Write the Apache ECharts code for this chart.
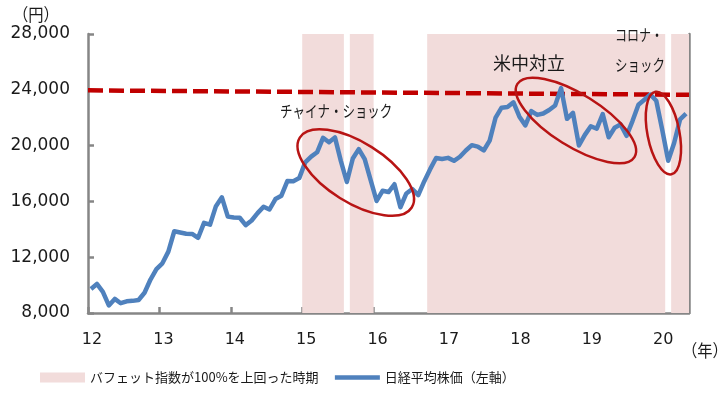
<!DOCTYPE html>
<html>
<head>
<meta charset="utf-8">
<script src="https://cdn.jsdelivr.net/npm/echarts@6.0.0/dist/echarts.min.js"></script>
<style>
  html, body { margin: 0; padding: 0; background: #fff; }
  #chart { width: 725px; height: 398px; }
</style>
</head>
<body>
<div id="chart"></div>
<script>
// 日経平均株価 月末値 (2012/02 - 2020/06)
const nikkei = [
  9720, 10080, 9520, 8540, 9010, 8700, 8840, 8870, 8930, 9450, 10400,               // 2012
  11140, 11560, 12400, 13860, 13770, 13680, 13670, 13390, 14460, 14330, 15660, 16290, // 2013
  14910, 14840, 14830, 14300, 14630, 15160, 15620, 15420, 16170, 16410, 17460, 17450, // 2014
  17670, 18800, 19210, 19520, 20560, 20240, 20590, 18890, 17390, 19080, 19750, 19030, // 2015
  17520, 16030, 16760, 16670, 17230, 15580, 16570, 16890, 16450, 17430, 18310, 19110, // 2016
  19040, 19120, 18910, 19200, 19650, 20030, 19930, 19650, 20360, 22010, 22720, 22760, // 2017
  23100, 22070, 21450, 22470, 22200, 22300, 22550, 22870, 24120, 21920, 22350, 20010, // 2018
  20770, 21390, 21210, 22260, 20600, 21280, 21520, 20700, 21760, 22930, 23290, 23660, // 2019
  23210, 21140, 18920, 20190, 21880, 22290                                            // 2020
];

// バフェット指数が100%を上回った時期 (months on the x scale, 0 = start of 2012)
const shadePeriods = [[36, 43], [44, 48], [57, 97], [98, 101]];

// red dashed reference line (start, end)
const refLine = [[0, 23960], [101, 23640]];

const yearLabels = ['12', '13', '14', '15', '16', '17', '18', '19', '20'];

// annotations: ellipse centre in data units, radii in px, rotation in degrees
const ellipses = [
  { c: [45, 18070], rx: 66, ry: 30, rot: -32 },
  { c: [82, 21800], rx: 69, ry: 26, rot: -32 },
  { c: [96.7, 20900], rx: 16, ry: 42, rot: 11 }
];

const SHADE_NAME = 'バフェット指数が100%を上回った時期';
const LINE_NAME = '日経平均株価（左軸）';
const JP = '"Noto Sans CJK JP", sans-serif';
const NUM = '"DejaVu Sans", Verdana, sans-serif';
const axisGray = '#868686';
const darkRed = '#B81414';
const blue = '#4F81BD';

const chart = echarts.init(document.getElementById('chart'));

chart.setOption({
  animation: false,
  grid: { left: 88, right: 36, top: 34, bottom: 85 },
  legend: {
    data: [
      { name: SHADE_NAME, icon: 'rect' },
      { name: LINE_NAME, itemStyle: { opacity: 0 }, lineStyle: { width: 4.5, color: blue } }
    ],
    left: 40,
    top: 371,
    padding: 0,
    itemWidth: 45,
    itemHeight: 10,
    itemGap: 14,
    textStyle: { fontFamily: JP, fontSize: 13, color: '#1a1a1a' }
  },
  xAxis: {
    type: 'value',
    min: 0,
    max: 101,
    interval: 12,
    splitLine: { show: false },
    axisLine: { lineStyle: { color: axisGray, width: 2.5 } },
    axisTick: { inside: true, length: 6, lineStyle: { color: axisGray, width: 2.5 } },
    axisLabel: {
      showMaxLabel: false,
      margin: 19,
      padding: [0, 0, 0, 8],
      fontFamily: NUM,
      fontSize: 16,
      color: '#1a1a1a',
      formatter: v => (v % 12 === 0 ? yearLabels[v / 12] : '')
    }
  },
  yAxis: [{
    type: 'value',
    min: 8000,
    max: 28000,
    interval: 4000,
    splitLine: { show: false },
    axisLine: { show: true, lineStyle: { color: axisGray, width: 2.5 } },
    axisTick: { show: true, inside: true, length: 6, lineStyle: { color: axisGray, width: 2.5 } },
    axisLabel: {
      margin: 18,
      fontFamily: NUM,
      fontSize: 17,
      color: '#1a1a1a',
      formatter: v => v.toLocaleString('en-US')
    }
  }, {
    type: 'value',
    position: 'right',
    min: 8000,
    max: 28000,
    splitLine: { show: false },
    axisLine: { show: true, lineStyle: { color: axisGray, width: 2.5 } },
    axisTick: { show: false },
    axisLabel: { show: false }
  }],
  series: [
    {
      name: SHADE_NAME,
      type: 'line',
      data: [],
      z: 1,
      itemStyle: { color: '#F2DCDB' },
      markArea: {
        silent: true,
        itemStyle: { color: '#F2DCDB' },
        data: shadePeriods.map(p => [{ xAxis: p[0] }, { xAxis: p[1] }])
      }
    },
    {
      name: LINE_NAME,
      type: 'line',
      data: nikkei.map((v, i) => [i + 0.5, v]),
      symbol: 'none',
      z: 4,
      itemStyle: { color: blue },
      lineStyle: { color: blue, width: 4.5, join: 'round' }
    },
    {
      name: 'ref',
      type: 'line',
      data: refLine,
      symbol: 'none',
      silent: true,
      z: 3,
      lineStyle: { color: '#C00000', width: 4.5, type: [15, 6] }
    }
  ]
});

// annotations
const graphic = ellipses.map(e => {
  const p = chart.convertToPixel({ seriesIndex: 1 }, e.c);
  return {
    type: 'ellipse',
    x: p[0], y: p[1],
    rotation: e.rot * Math.PI / 180,
    shape: { cx: 0, cy: 0, rx: e.rx, ry: e.ry },
    style: { fill: 'none', stroke: darkRed, lineWidth: 2.5 },
    z: 100
  };
});

const labels = [
  { t: 'チャイナ・ショック', x: 280, y: 111, fs: 16, sx: 0.78 },
  { t: '米中対立', x: 493, y: 63, fs: 18, sx: 1 },
  { t: 'コロナ・', x: 615, y: 35, fs: 16, sx: 0.75 },
  { t: 'ショック', x: 615, y: 65, fs: 16, sx: 0.78 },
  { t: '（円）', x: 13, y: 15, fs: 17, sx: 0.9 },
  { t: '（年）', x: 682, y: 351, fs: 17, sx: 0.9 }
];
labels.forEach(l => graphic.push({
  type: 'text',
  x: l.x, y: l.y,
  scaleX: l.sx,
  style: {
    text: l.t,
    font: l.fs + 'px ' + JP,
    fill: '#1a1a1a',
    textAlign: 'left',
    textVerticalAlign: 'middle'
  },
  z: 100
}));

chart.setOption({ graphic: graphic });
</script>
</body>
</html>
